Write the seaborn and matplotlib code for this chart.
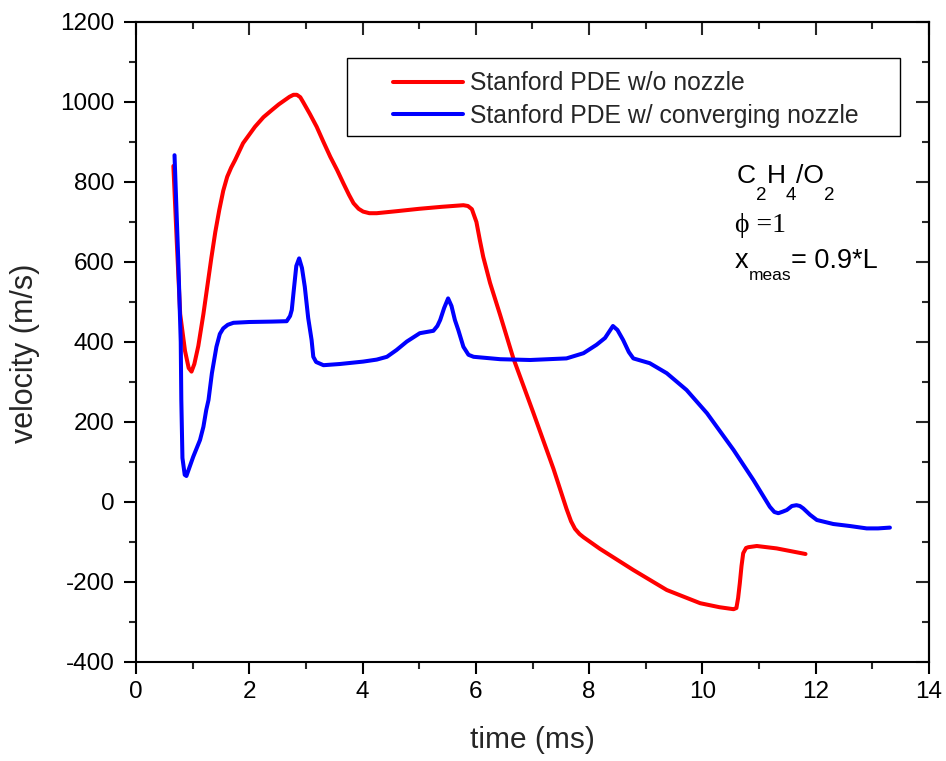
import numpy as np
import pandas as pd
import matplotlib
matplotlib.use("Agg")
import matplotlib.pyplot as plt
from matplotlib.ticker import MultipleLocator
from matplotlib.patches import Rectangle
import seaborn as sns

# ---------------- data ----------------
red_label = "Stanford PDE w/o nozzle"
blue_label = "Stanford PDE w/ converging nozzle"

red_t = [0.66, 0.72, 0.78, 0.865, 0.93, 0.98, 1.03, 1.10, 1.19, 1.26, 1.33, 1.40,
         1.47, 1.54, 1.61, 1.68, 1.75, 1.89, 2.10, 2.25, 2.40, 2.52, 2.63, 2.71, 2.78, 2.84,
         2.90, 2.95, 3.07, 3.19,
         3.31, 3.43, 3.55, 3.66, 3.76, 3.84, 3.93, 4.01, 4.12, 4.25, 4.60, 5.00,
         5.40, 5.78, 5.86, 5.93, 6.01, 6.07, 6.13, 6.25, 6.43, 6.66, 7.01, 7.37,
         7.60, 7.68, 7.75, 7.83, 7.90, 8.19, 8.78, 9.37, 9.96, 10.30, 10.55, 10.60,
         10.63, 10.66, 10.69, 10.72, 10.77, 10.81, 10.96, 11.31, 11.82]
red_v = [840, 650, 470, 378, 335, 326, 345, 390, 470, 540, 610, 675,
         730, 778, 813, 836, 855, 897, 938, 962, 980, 994, 1005, 1013, 1018, 1018,
         1012, 1000, 970, 938,
         900, 863, 830, 797, 768, 747, 733, 726, 722, 722, 727, 733,
         738, 742, 740, 732, 700, 655, 613, 548, 467, 360, 225, 83,
         -17, -48, -67, -80, -88, -117, -170, -220, -253, -263, -268, -265,
         -240, -203, -160, -128, -115, -113, -110, -116, -130]

blue_t = [0.68, 0.745, 0.79, 0.80, 0.82, 0.86, 0.89, 0.94, 1.01, 1.13, 1.19, 1.24,
          1.28, 1.34, 1.42, 1.48, 1.54, 1.62, 1.72, 2.00, 2.40, 2.66, 2.72, 2.75,
          2.78, 2.83, 2.88, 2.93, 2.98, 3.04, 3.10, 3.13, 3.18, 3.31, 3.60, 4.01,
          4.25, 4.43, 4.60, 4.78, 5.01, 5.25, 5.32, 5.37, 5.44, 5.51, 5.57, 5.63,
          5.69, 5.78, 5.87, 5.96, 6.43, 6.96, 7.60, 7.90, 8.13, 8.28, 8.42, 8.50,
          8.60, 8.70, 8.78, 9.07, 9.37, 9.72, 10.08, 10.55, 10.90, 11.19, 11.27, 11.34,
          11.42, 11.49, 11.58, 11.66, 11.72, 11.78, 11.90, 12.02, 12.31, 12.60, 12.90, 13.10,
          13.31]
blue_v = [867, 610, 400, 255, 110, 68, 65, 85, 113, 155, 188, 230,
          255, 322, 388, 420, 434, 443, 448, 450, 451, 452, 465, 480,
          522, 590, 609, 585, 538, 460, 405, 363, 350, 342, 345, 351,
          356, 363, 380, 401, 422, 428, 440, 455, 485, 509, 490, 455,
          430, 388, 368, 363, 357, 355, 359, 372, 393, 410, 440, 430,
          405, 375, 359, 347, 322, 280, 222, 130, 55, -12, -25, -28,
          -24, -20, -10, -8, -10, -16, -32, -45, -55, -60, -66, -66,
          -64]

x_ticks = [0, 2, 4, 6, 8, 10, 12, 14]
y_ticks = [-400, -200, 0, 200, 400, 600, 800, 1000, 1200]

df = pd.concat([
    pd.DataFrame({"time": red_t, "velocity": red_v, "series": red_label}),
    pd.DataFrame({"time": blue_t, "velocity": blue_v, "series": blue_label}),
], ignore_index=True)

# ---------------- style ----------------
sns.set_style("ticks")
plt.rcParams["font.family"] = ["Liberation Sans", "DejaVu Sans"]
plt.rcParams["axes.unicode_minus"] = False
plt.rcParams["lines.solid_joinstyle"] = "round"
plt.rcParams["lines.solid_capstyle"] = "round"

W, H = 946, 761
fig = plt.figure(figsize=(W / 100, H / 100), dpi=100)
L, R, T, B = 136, 929, 22, 662
ax = fig.add_axes([L / W, 1 - B / H, (R - L) / W, (B - T) / H])

sns.lineplot(data=df, x="time", y="velocity", hue="series",
             palette={red_label: "#ff0000", blue_label: "#0000ff"},
             hue_order=[red_label, blue_label],
             sort=False, estimator=None, ax=ax, legend=True)
for ln in ax.get_lines():
    ln.set_linewidth(2.9)

ax.set_xlim(0, 14)
ax.set_ylim(-400, 1200)
ax.set_xticks(x_ticks)
ax.set_yticks(y_ticks)
ax.xaxis.set_minor_locator(MultipleLocator(1))
ax.yaxis.set_minor_locator(MultipleLocator(100))

for s in ax.spines.values():
    s.set_linewidth(1.5)
    s.set_color("black")

ax.tick_params(axis="both", which="major", direction="out", length=8.5, width=1.5,
               labelsize=17.5, colors="black")
ax.tick_params(axis="x", which="major", pad=5)
ax.tick_params(axis="y", which="major", pad=7)
ax.tick_params(axis="both", which="minor", direction="out", length=5, width=1.5)

# inward ticks on top and right
secx = ax.secondary_xaxis("top")
secx.set_xticks(x_ticks)
secx.xaxis.set_minor_locator(MultipleLocator(1))
secx.tick_params(which="major", direction="in", length=9.5, width=1.5, labeltop=False)
secx.tick_params(which="minor", direction="in", length=5, width=1.5)
secx.spines["top"].set_linewidth(1.5)

secy = ax.secondary_yaxis("right")
secy.set_yticks(y_ticks)
secy.yaxis.set_minor_locator(MultipleLocator(100))
secy.tick_params(which="major", direction="in", length=9.5, width=1.5, labelright=False)
secy.tick_params(which="minor", direction="in", length=5, width=1.5)
secy.spines["right"].set_linewidth(1.5)

ax.set_xlabel("time (ms)", fontsize=21.5)
ax.set_ylabel("velocity (m/s)", fontsize=22)
ax.xaxis.set_label_coords(0.5, -0.100)
ax.yaxis.set_label_coords(-0.121, 0.483)

# legend
handles, labels = ax.get_legend_handles_labels()
leg = ax.legend(handles, labels, loc="center left",
                bbox_to_anchor=(393 / W, 1 - 99.5 / H), bbox_transform=fig.transFigure,
                frameon=False, fontsize=17.8, handlelength=2.83, handletextpad=0.28,
                borderpad=0, labelspacing=0.35, borderaxespad=0)
for ln in leg.get_lines():
    ln.set_linewidth(2.9)
fig.patches.append(Rectangle((347 / W, 1 - 136 / H), (900 - 347) / W, (136 - 58) / H,
                             transform=fig.transFigure, fill=False, edgecolor="black",
                             linewidth=1.0, zorder=5))

# annotation text built from pieces
renderer = fig.canvas.get_renderer()


def draw_pieces(x0, y0, pieces, family=None):
    x = x0
    for txt, size, dy in pieces:
        kw = dict(fontsize=size, va="baseline", ha="left", color="black")
        if family:
            kw["family"] = family
        t = fig.text(x / W, 1 - (y0 + dy) / H, txt, **kw)
        bb = t.get_window_extent(renderer=renderer)
        x += bb.width


draw_pieces(737, 183, [("C", 19, 0), ("2", 13.5, 17), ("H", 19, 0), ("4", 13.5, 17),
                       ("/O", 19, 0), ("2", 13.5, 17)])
fig.text(735 / W, 1 - 232 / H, "\u03d5 =1", fontsize=20, va="baseline", ha="left",
         color="black", family=["Liberation Serif", "DejaVu Serif"])
draw_pieces(735, 268, [("x", 19.5, 0), ("meas", 12.5, 12), ("= 0.9*L", 19.5, 0)])

fig.savefig("out.png", dpi=100, facecolor="white")
